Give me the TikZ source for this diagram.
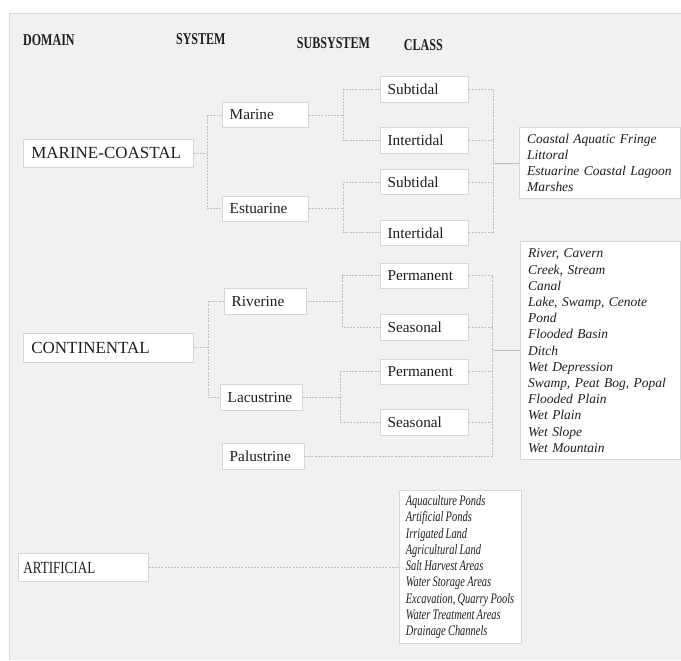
\documentclass[tikz,border=0pt]{standalone}
\usepackage{fontspec}
\setmainfont{Liberation Serif}
\newfontfamily\hdrfont[FakeStretch=0.73]{Liberation Serif}
\newfontfamily\artfont[FakeStretch=0.77,WordSpace=0.85]{Liberation Serif}
\newfontfamily\artlistfont[FakeStretch=0.72,WordSpace=0.85]{Liberation Serif}
\definecolor{panel}{HTML}{F1F1F1}
\definecolor{panelline}{HTML}{DADADA}
\definecolor{boxline}{HTML}{D6D6D6}
\definecolor{connc}{HTML}{BDBDBD}
\definecolor{txt}{HTML}{1E1E1E}
\begin{document}
\begin{tikzpicture}[x=1pt,y=-1pt,
  hdr/.style={font=\hdrfont\bfseries\fontsize{16.5}{18}\selectfont, anchor=base west, inner sep=0pt, text=txt},
  box/.style={draw=boxline, fill=white, line width=0.8pt, anchor=west, inner xsep=7.5pt, inner ysep=0pt, align=left, text=txt},
  sbox/.style={box, font=\fontsize{15.3}{17}\selectfont, minimum height=25.5pt, text width=73pt},
  rbox/.style={box, font=\fontsize{15.3}{17}\selectfont, minimum height=25.5pt, text width=67pt},
  dbox/.style={box, inner xsep=8pt, font=\fontsize{17}{19}\selectfont, minimum height=28.5pt, text width=154pt},
  cbox/.style={box, inner xsep=8pt, font=\itshape\fontsize{13.5}{16.2}\selectfont},
  conn/.style={draw=connc, line width=0.7pt, dash pattern=on 2pt off 1.2pt},
  cline/.style={draw=connc, line width=0.7pt}
]
\fill[white] (0,0) rectangle (681,660);
\fill[panel] (10,14) rectangle (681,660);
\draw[panelline, line width=1pt] (10,660) -- (10,14) -- (681,14);

% headers
\node[hdr] (hdom) at (23,45.5) {DOMAIN};
\node[hdr] (hsys) at (176,45) {SYSTEM};
\node[hdr] (hsub) at (297,48.5) {SUBSYSTEM};
\node[hdr] (hcls) at (404,51) {CLASS};

% domain boxes
\node[dbox] (mc) at (23,153.5) {MARINE-COASTAL};
\node[dbox] (cont) at (23,348) {CONTINENTAL};
\node[box, inner xsep=5pt, text width=120pt, minimum height=28.5pt, font=\artfont\fontsize{17}{19}\selectfont] (art) at (18,568) {ARTIFICIAL};

% system boxes
\node[rbox, text width=71pt] (marine) at (222,115) {Marine};
\node[rbox, text width=71pt] (estuarine) at (222,209) {Estuarine};
\node[rbox] (riverine) at (224,301.5) {Riverine};
\node[rbox] (lacustrine) at (220,397.5) {Lacustrine};
\node[rbox] (palustrine) at (222,456.5) {Palustrine};

% subsystem boxes
\node[sbox] (sub1) at (380,89.5) {Subtidal};
\node[sbox] (int1) at (380,140.5) {Intertidal};
\node[sbox] (sub2) at (380,182) {Subtidal};
\node[sbox] (int2) at (380,233) {Intertidal};
\node[sbox] (perm1) at (380,276) {Permanent};
\node[sbox] (seas1) at (380,327.5) {Seasonal};
\node[sbox] (perm2) at (380,372) {Permanent};
\node[sbox] (seas2) at (380,422.5) {Seasonal};

% class boxes
\node[cbox, text width=145pt, minimum height=72pt] (class1) at (519,163) {Coastal Aquatic Fringe\\Littoral\\Estuarine Coastal Lagoon\\Marshes};
\node[cbox, text width=144pt, minimum height=218pt] (class2) at (520,351) {River, Cavern\\Creek, Stream\\Canal\\Lake, Swamp, Cenote\\Pond\\Flooded Basin\\Ditch\\Wet Depression\\Swamp, Peat Bog, Popal\\Flooded Plain\\Wet Plain\\Wet Slope\\Wet Mountain};
\node[cbox, inner xsep=5pt, minimum width=122pt, minimum height=153pt, font=\artlistfont\itshape\fontsize{14.5}{16.25}\selectfont] (class3) at (399,567.5) {Aquaculture Ponds\\Artificial Ponds\\Irrigated Land\\Agricultural Land\\Salt Harvest Areas\\Water Storage Areas\\Excavation, Quarry Pools\\Water Treatment Areas\\Drainage Channels};

% trunk coordinates
\coordinate (tA) at (207,0);
\coordinate (tB) at (344,0);
\coordinate (tC) at (494,0);
\coordinate (tD) at (208,0);
\coordinate (tE) at (343,0);
\coordinate (tF) at (341,0);
\coordinate (tG) at (493,0);

% marine-coastal
\draw[conn] (mc.east) -- (mc.east -| tA);
\draw[conn] (marine.west) -| (tA |- estuarine.west) -- (estuarine.west);
\draw[conn] (marine.east) -- (marine.east -| tB);
\draw[conn] (sub1.west) -| (tB |- int1.west) -- (int1.west);
\draw[conn] (estuarine.east) -- (estuarine.east -| tB);
\draw[conn] (sub2.west) -| (tB |- int2.west) -- (int2.west);
\draw[conn] (sub1.east) -| (tC |- int2.east) -- (int2.east);
\draw[conn] (int1.east) -- (int1.east -| tC);
\draw[conn] (sub2.east) -- (sub2.east -| tC);
\draw[cline] (class1.west) -- (class1.west -| tC);

% continental
\draw[conn] (cont.east) -- (cont.east -| tD);
\draw[conn] (riverine.west) -| (tD |- lacustrine.west) -- (lacustrine.west);
\draw[conn] (riverine.east) -- (riverine.east -| tE);
\draw[conn] (perm1.west) -| (tE |- seas1.west) -- (seas1.west);
\draw[conn] (lacustrine.east) -- (lacustrine.east -| tF);
\draw[conn] (perm2.west) -| (tF |- seas2.west) -- (seas2.west);
\draw[conn] (perm1.east) -| (tG |- palustrine.east) -- (palustrine.east);
\draw[conn] (seas1.east) -- (seas1.east -| tG);
\draw[conn] (perm2.east) -- (perm2.east -| tG);
\draw[conn] (seas2.east) -- (seas2.east -| tG);
\draw[cline] (class2.west) -- (class2.west -| tG);

% artificial
\draw[conn] (art.east) -- (art.east -| class3.west);
\end{tikzpicture}
\end{document}
